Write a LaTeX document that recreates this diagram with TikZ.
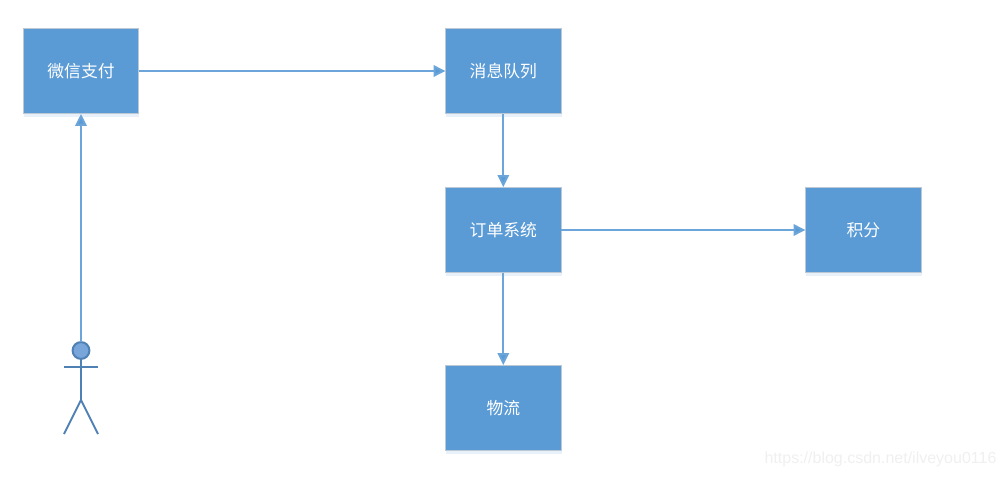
\documentclass[tikz,border=0pt]{standalone}
\usepackage{fontspec}
\setmainfont{Noto Sans CJK SC}
\newfontfamily\wmfont{Liberation Sans}
\usetikzlibrary{arrows.meta,shadows,positioning}
\definecolor{boxblue}{HTML}{5B9BD5}
\definecolor{boxedge}{HTML}{BCC8D4}
\definecolor{actoredge}{HTML}{4F81B5}
\definecolor{actorfill}{HTML}{78A6DA}
\definecolor{wmgray}{HTML}{F0F0F0}
\tikzset{
  procbox/.style={rectangle,draw=boxedge,line width=0.7pt,fill=boxblue,text=white,
    minimum width=86.7pt,minimum height=64.4pt,inner sep=0pt,outer sep=0pt,
    font=\fontsize{12.6pt}{14pt}\selectfont,
    general shadow={fill=boxblue!14,shadow xshift=0.4pt,shadow yshift=-2pt}},
  flow/.style={draw=boxblue!90,line width=1.5pt,-{Triangle[length=9pt,width=8.6pt,fill=boxblue]}},
  actorline/.style={draw=actoredge,line width=1.5pt},
}
\begin{document}
\begin{tikzpicture}[x=0.75pt,y=-0.75pt]
\useasboundingbox (0,0) rectangle (1005,477);
\fill[white] (0,0) rectangle (1005,477);
\node[procbox] (pay) at (81,71) {微信支付};
\node[procbox] (mq) at (503.3,71) {消息队列};
\node[procbox] (order) at (503.3,230) {订单系统};
\node[procbox] (points) at (863.3,230) {积分};
\node[procbox] (logi) at (503.3,408) {物流};
\node[circle,draw=actoredge,line width=1.5pt,fill=actorfill,minimum size=12.6pt,inner sep=0pt,outer sep=0pt] (head) at (81,350.5) {};
\coordinate (hip) at (81,400);
\coordinate (armL) at (64,367);
\coordinate (armR) at (98,367);
\coordinate (legL) at (64,434);
\coordinate (legR) at (98,434);
\draw[actorline] (head.south) -- (hip);
\draw[actorline] (armL) -- (armR);
\draw[actorline] (legL) -- (hip) -- (legR);
\draw[flow] (head.north) -- (pay.south);
\draw[flow] (pay.east) -- (mq.west);
\draw[flow] (mq.south) -- (order.north);
\draw[flow] (order.east) -- (points.west);
\draw[flow] (order.south) -- (logi.north);
\node[text=wmgray,font=\wmfont\fontsize{12pt}{14pt}\selectfont,inner sep=0pt] (wm) at (880.5,459) {https://blog.csdn.net/ilveyou0116};
\end{tikzpicture}
\end{document}
